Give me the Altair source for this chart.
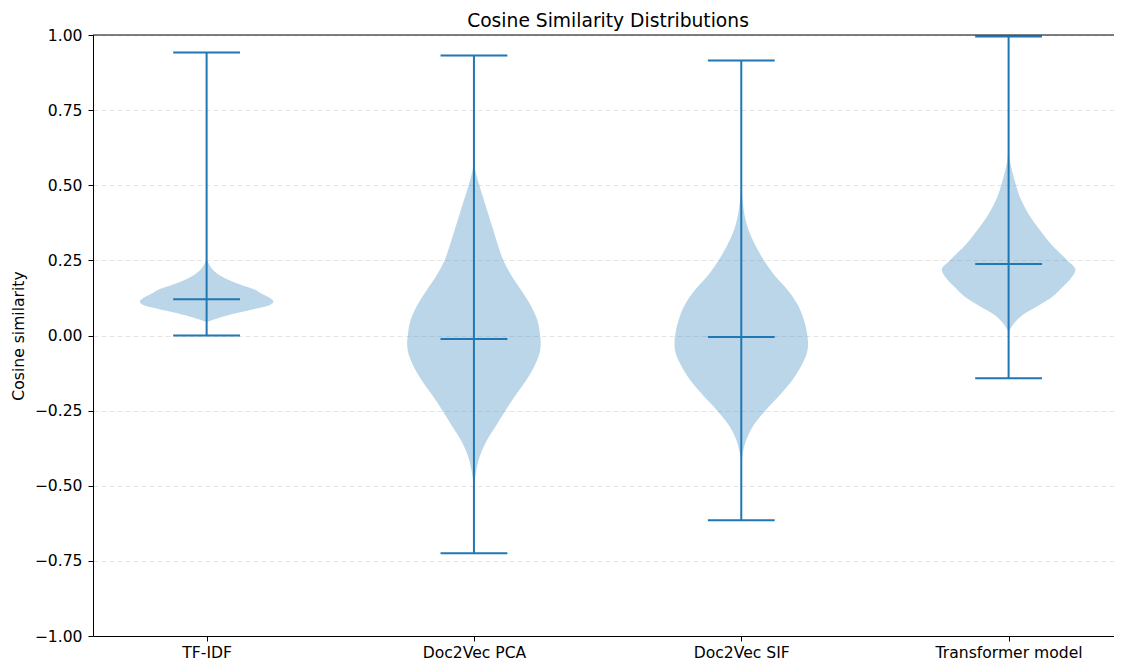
import altair as alt
import pandas as pd

categories = ["TF-IDF", "Doc2Vec PCA", "Doc2Vec SIF", "Transformer model"]
mins = [0.0, -0.725, -0.615, -0.142]
maxs = [0.942, 0.932, 0.915, 0.995]
medians = [0.121, -0.012, -0.005, 0.238]

title_text = "Cosine Similarity Distributions"
y_title = "Cosine similarity"

# density outline (value, relative half-width)
kde_y_tfidf = [0.045, 0.06, 0.075, 0.09, 0.10, 0.113, 0.125, 0.14, 0.155, 0.17, 0.185, 0.20, 0.22, 0.24, 0.255]
kde_w_tfidf = [0.0, 0.2, 0.45, 0.75, 0.93, 1.0, 0.95, 0.82, 0.70, 0.50, 0.33, 0.20, 0.09, 0.03, 0.0]

kde_y_pca = [0.58, 0.55, 0.50, 0.45, 0.40, 0.35, 0.30, 0.25, 0.20, 0.15, 0.10, 0.05, 0.0, -0.025,
             -0.05, -0.10, -0.15, -0.20, -0.25, -0.30, -0.35, -0.40, -0.45, -0.50, -0.52]
kde_w_pca = [0.0, 0.02, 0.08, 0.15, 0.22, 0.29, 0.36, 0.44, 0.56, 0.71, 0.85, 0.95, 0.99, 1.0,
             0.99, 0.91, 0.78, 0.62, 0.47, 0.33, 0.19, 0.09, 0.035, 0.005, 0.0]

kde_y_sif = [0.50, 0.45, 0.40, 0.35, 0.30, 0.25, 0.20, 0.15, 0.10, 0.05, 0.0, -0.03,
             -0.06, -0.10, -0.15, -0.20, -0.25, -0.30, -0.35, -0.40, -0.42]
kde_w_sif = [0.0, 0.02, 0.05, 0.11, 0.21, 0.34, 0.50, 0.70, 0.85, 0.94, 0.99, 1.0,
             0.98, 0.90, 0.76, 0.57, 0.36, 0.18, 0.07, 0.015, 0.0]

kde_y_tr = [0.62, 0.58, 0.55, 0.50, 0.45, 0.40, 0.35, 0.30, 0.25, 0.22, 0.19, 0.16, 0.13, 0.10, 0.07, 0.04, 0.01]
kde_w_tr = [0.0, 0.02, 0.05, 0.11, 0.19, 0.31, 0.47, 0.65, 0.88, 1.0, 0.93, 0.80, 0.66, 0.45, 0.22, 0.08, 0.0]

kde_ys = [kde_y_tfidf, kde_y_pca, kde_y_sif, kde_y_tr]
kde_ws = [kde_w_tfidf, kde_w_pca, kde_w_sif, kde_w_tr]

HALF = 0.25   # max half-width of a violin (x units)
CAP = 0.125   # half-length of the caps

rows = []
for i, (ys, ws) in enumerate(zip(kde_ys, kde_ws)):
    pos = i + 1
    for v, w in zip(ys, ws):
        rows.append({"cat": categories[i], "v": v, "left": pos - HALF * w, "right": pos + HALF * w})
area_df = pd.DataFrame(rows)

stat_df = pd.DataFrame({
    "cat": categories,
    "pos": [i + 1 for i in range(len(categories))],
    "vmin": mins,
    "vmax": maxs,
})
cap_rows = []
for i, c in enumerate(categories):
    for val in (mins[i], maxs[i], medians[i]):
        cap_rows.append({"cat": c, "x1": i + 1 - CAP, "x2": i + 1 + CAP, "v": val})
cap_df = pd.DataFrame(cap_rows)

C0 = "#1f77b4"
W = 1021
H = 601
PX_PER_UNIT = 267.33
xscale = alt.Scale(domain=[0.575, 0.575 + W / PX_PER_UNIT], nice=False, zero=False)
yscale = alt.Scale(domain=[-1, 1], nice=False, zero=False)

label_expr = "[" + ",".join("'" + c + "'" for c in categories) + "][datum.value - 1]"

yaxis = alt.Axis(values=[-1, -0.75, -0.5, -0.25, 0, 0.25, 0.5, 0.75, 1], format=".2f",
                 title=y_title, grid=True, gridDash=[5, 3], gridColor="#e0e0e0",
                 gridWidth=0.8, domainColor="black", tickColor="black", tickSize=5,
                 labelFontSize=15.6, labelColor="black", labelPadding=6,
                 titleFontSize=15.6, titleFontWeight="normal", titleColor="black",
                 titlePadding=8)
xaxis = alt.Axis(values=[1, 2, 3, 4], labelExpr=label_expr, title=None, grid=False,
                 domainColor="black", tickColor="black", tickSize=5,
                 labelFontSize=15.6, labelColor="black", labelPadding=4)

areas = alt.Chart(area_df).mark_area(orient="horizontal", color=C0, opacity=0.3,
                                     interpolate="monotone").encode(
    y=alt.Y("v:Q", scale=yscale, axis=yaxis),
    x=alt.X("left:Q", scale=xscale, axis=xaxis, stack=None),
    x2="right:Q",
    detail="cat:N",
)

vlines = alt.Chart(stat_df).mark_rule(color=C0, strokeWidth=2).encode(
    x=alt.X("pos:Q", scale=xscale, axis=xaxis),
    y=alt.Y("vmin:Q", scale=yscale, axis=yaxis),
    y2="vmax:Q",
)

caps = alt.Chart(cap_df).mark_rule(color=C0, strokeWidth=2).encode(
    x=alt.X("x1:Q", scale=xscale, axis=xaxis),
    x2="x2:Q",
    y=alt.Y("v:Q", scale=yscale, axis=yaxis),
)

top_spine = alt.Chart(pd.DataFrame({"k": [0]})).mark_rule(color="black", strokeWidth=1).encode(
    x=alt.value(0), x2=alt.value(W), y=alt.value(0),
)

title_mark = alt.Chart(pd.DataFrame({"t": [title_text]})).mark_text(
    fontSize=18.7, color="black", align="center", baseline="alphabetic"
).encode(
    text="t:N", x=alt.value(515), y=alt.value(-8.5),
)

chart = alt.layer(areas, vlines, caps, top_spine, title_mark).properties(
    width=W,
    height=H,
    autosize=alt.AutoSizeParams(type="none"),
    padding={"left": 85, "top": 27, "right": 0, "bottom": 24},
).configure(font="DejaVu Sans").configure_view(stroke=None)

chart.save("out.html", embed_options={"renderer": "svg", "actions": False})
